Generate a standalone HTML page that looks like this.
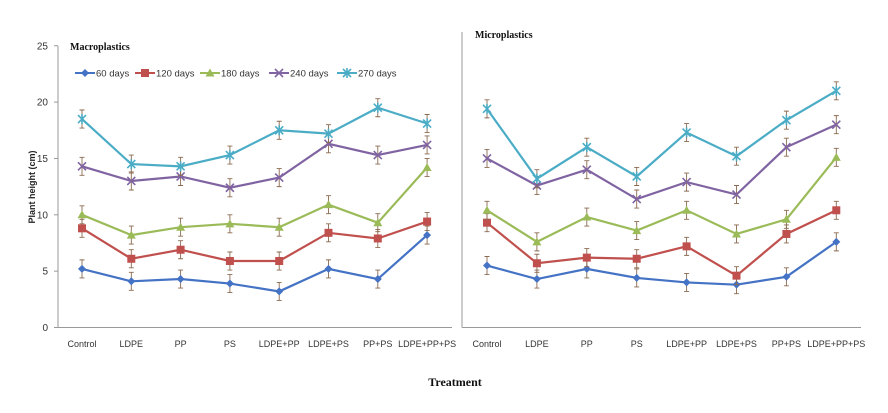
<!DOCTYPE html>
<html><head><meta charset="utf-8"><style>
html,body{margin:0;padding:0;background:#fff;}
svg{display:block;font-family:"Liberation Sans",sans-serif;}
</style></head><body>
<svg id="chart" width="888" height="413" viewBox="0 0 888 413" xmlns="http://www.w3.org/2000/svg">
<text transform="translate(35,187) rotate(-90)" text-anchor="middle" font-size="9" font-weight="bold" fill="#222">Plant height (cm)</text>
<text x="455" y="386" text-anchor="middle" font-family="Liberation Serif,serif" font-size="12" font-weight="bold" fill="#111">Treatment</text>
<text x="70" y="50" font-family="Liberation Serif,serif" font-size="10" font-weight="bold" fill="#111">Macroplastics</text>
<text x="475" y="38" font-family="Liberation Serif,serif" font-size="10" font-weight="bold" fill="#111">Microplastics</text>
</svg>
<script>
const categories=["Control","LDPE","PP","PS","LDPE+PP","LDPE+PS","PP+PS","LDPE+PP+PS"];
const seriesNames=["60 days","120 days","180 days","240 days","270 days"];
const yTicks=[0,5,10,15,20,25];
const macro60=[5.2,4.1,4.3,3.9,3.2,5.2,4.3,8.2];
const macro120=[8.8,6.1,6.9,5.9,5.9,8.4,7.9,9.4];
const macro180=[10.0,8.2,8.9,9.2,8.9,10.9,9.3,14.2];
const macro240=[14.3,13.0,13.4,12.4,13.3,16.3,15.3,16.2];
const macro270=[18.5,14.5,14.3,15.3,17.5,17.2,19.5,18.1];
const micro60=[5.5,4.3,5.2,4.4,4.0,3.8,4.5,7.6];
const micro120=[9.3,5.7,6.2,6.1,7.2,4.6,8.3,10.4];
const micro180=[10.4,7.6,9.8,8.6,10.4,8.3,9.6,15.1];
const micro240=[15.0,12.6,14.0,11.4,12.9,11.8,16.0,18.0];
const micro270=[19.4,13.2,16.0,13.4,17.3,15.2,18.4,21.0];
const errorBar=0.8;

const colors=["#4472C4","#C0504D","#9BBB59","#8064A2","#4BACC6"];
const markers=["diamond","square","triangle","x","star"];
const NS="http://www.w3.org/2000/svg";
const svg=document.getElementById('chart');
function mk(tag,attrs,parent){const e=document.createElementNS(NS,tag);for(const k in attrs)e.setAttribute(k,attrs[k]);(parent||svg).appendChild(e);return e;}
const y0=327.5,pxPerUnit=11.27;
function yScale(v){return y0-v*pxPerUnit;}

function marker(g,type,x,y,c){
  let m;
  if(type==="diamond")m=mk('polygon',{points:`${x},${y-4} ${x+4},${y} ${x},${y+4} ${x-4},${y}`,fill:c},g);
  else if(type==="square")m=mk('rect',{x:x-4,y:y-4,width:8,height:8,fill:c},g);
  else if(type==="triangle")m=mk('polygon',{points:`${x},${y-4.5} ${x+4.5},${y+3.5} ${x-4.5},${y+3.5}`,fill:c},g);
  else {
    m=mk('path',{d:`M${x-4},${y-4}L${x+4},${y+4}M${x-4},${y+4}L${x+4},${y-4}`+(type==="star"?`M${x},${y-5}L${x},${y+5}`:''),stroke:c,'stroke-width':1.6,fill:'none'},g);
  }
  
  
}

function panel(name,axisX,left,right,xs,seriesList,showTicks,showLegend,axisTop){
  const g=mk('g',{});
  
  
  const ax=mk('line',{x1:axisX,y1:axisTop,x2:axisX,y2:y0,stroke:'#999','stroke-width':1},g);
  
  
  const bx=mk('line',{x1:axisX,y1:y0,x2:right,y2:y0,stroke:'#999','stroke-width':1},g);
  
  
  if(showTicks){
    yTicks.forEach(t=>{
      const tk=mk('line',{x1:axisX-4,y1:yScale(t),x2:axisX,y2:yScale(t),stroke:'#999'},g);
      
      
      const tl=mk('text',{x:axisX-10,y:yScale(t)+3.5,'text-anchor':'end','font-size':10,fill:'#333'},g);
      tl.textContent=t;
      
      
    });
  }
  categories.forEach((c,i)=>{
    const t=mk('text',{x:xs(i),y:347,'text-anchor':'middle','font-size':9,fill:'#333'},g);
    t.textContent=c;
    
    
  });
  seriesList.forEach((vals,s)=>{
    const sg=mk('g',{},g);
    
    
    vals.forEach((v,i)=>{
      const eb=mk('path',{d:`M${xs(i)},${yScale(v+errorBar)}V${yScale(v-errorBar)}M${xs(i)-2.5},${yScale(v+errorBar)}H${xs(i)+2.5}M${xs(i)-2.5},${yScale(v-errorBar)}H${xs(i)+2.5}`,stroke:'#8a6a50','stroke-width':0.9,fill:'none'},sg);
      
      
    });
    const ln=mk('polyline',{points:vals.map((v,i)=>xs(i)+','+yScale(v)).join(' '),fill:'none',stroke:colors[s],'stroke-width':2.2},sg);
    
    
    vals.forEach((v,i)=>marker(sg,markers[s],xs(i),yScale(v),colors[s]));
  });
  if(showLegend){
    const lx=[75,135,200,269,337];
    seriesNames.forEach((n,s)=>{
      const lg=mk('g',{},g);
      
      
      mk('line',{x1:lx[s],y1:73,x2:lx[s]+20,y2:73,stroke:colors[s],'stroke-width':2},lg);
      marker(lg,markers[s],lx[s]+10,73,colors[s]);
      const t=mk('text',{x:lx[s]+21,y:76.5,'font-size':9.5,fill:'#333'},lg);
      t.textContent=n;
    });
  }
}
const macroX=i=>82+i*49.3;
const microX=i=>487+i*49.9;
panel('macro',58,58,452,macroX,[macro60,macro120,macro180,macro240,macro270],true,true,46);
panel('micro',462,462,861,microX,[micro60,micro120,micro180,micro240,micro270],false,false,32);
</script>
</body></html>
